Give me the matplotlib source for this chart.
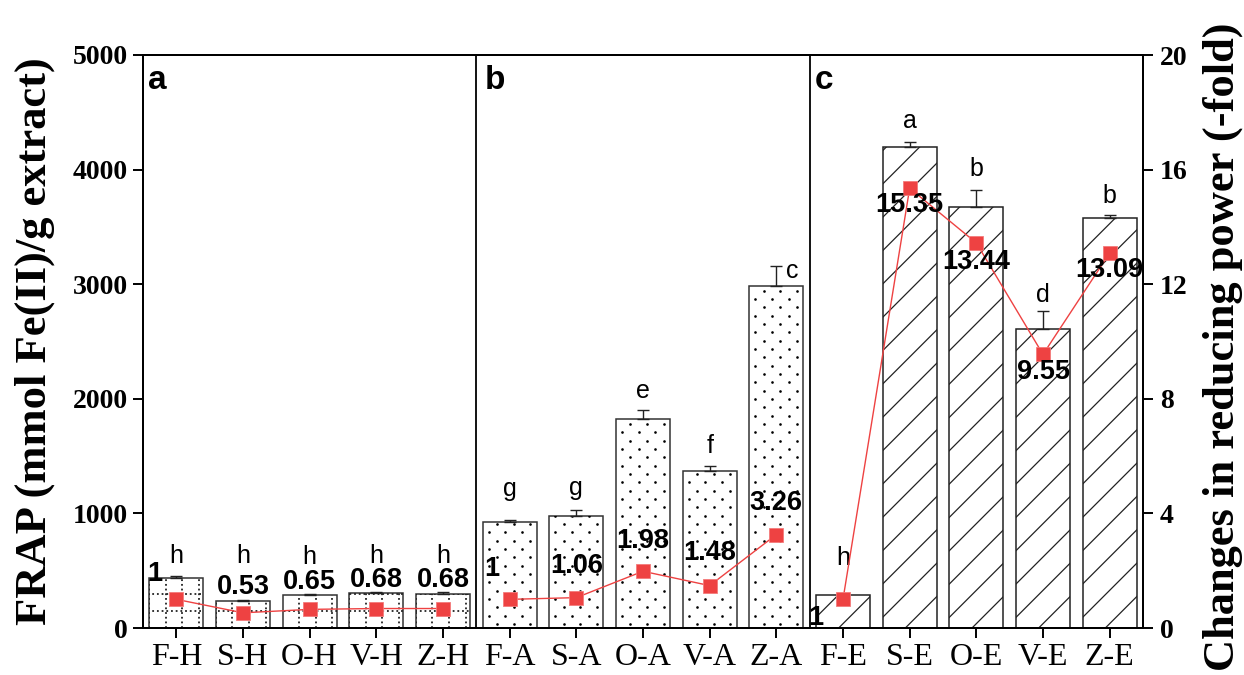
import matplotlib
matplotlib.use("Agg")
import matplotlib.pyplot as plt
import numpy as np

# ---------------- data ----------------
categories = ["F-H", "S-H", "O-H", "V-H", "Z-H",
              "F-A", "S-A", "O-A", "V-A", "Z-A",
              "F-E", "S-E", "O-E", "V-E", "Z-E"]
frap = [436, 232, 290, 302, 300,
        926, 977, 1824, 1370, 2987,
        285, 4200, 3676, 2612, 3580]
frap_err = [20, 10, 10, 10, 10,
            20, 50, 79, 44, 172,
            10, 44, 150, 155, 26]
letters = ["h", "h", "h", "h", "h",
           "g", "g", "e", "f", "c",
           "h", "a", "b", "d", "b"]
fold = [1, 0.53, 0.65, 0.68, 0.68,
        1, 1.06, 1.98, 1.48, 3.26,
        1, 15.35, 13.44, 9.55, 13.09]
fold_labels = ["1", "0.53", "0.65", "0.68", "0.68",
               "1", "1.06", "1.98", "1.48", "3.26",
               "1", "15.35", "13.44", "9.55", "13.09"]
groups = [(0, 5), (5, 10), (10, 15)]
panel_labels = ["a", "b", "c"]
left_ticks = [0, 1000, 2000, 3000, 4000, 5000]
right_ticks = [0, 4, 8, 12, 16, 20]

# ---------------- layout / style (pixel offsets) ----------------
letter_off = [(0, 13), (0, 37), (0, 30), (0, 29), (0, 29),
              (0, 24), (0, 15), (0, 12), (0, 13), (16, -12),
              (0, 29), (0, 14), (0, 14), (0, 9), (0, 12)]
fold_off = [(-22, 25), (0, 26), (0, 27), (0, 29), (0, 29),
            (-18, 30), (0, 32), (0, 30), (0, 33), (0, 32),
            (-27, -19), (0, -17), (0, -19), (0, -18), (0, -17)]
panel_x = [-0.43, 4.62, 9.58]

SERIF = "Liberation Serif"
SANS = "Liberation Sans"
RED = "#EE4242"

fig = plt.figure(figsize=(12.44, 6.75), dpi=100)
ax = fig.add_axes([143 / 1244, 47 / 675, 1000 / 1244, 573 / 675])
ax2 = ax.twinx()

x = np.arange(len(categories))
width = 0.81

plt.rcParams["hatch.linewidth"] = 0.9

bars = ax.bar(x, frap, width=width, color="white", edgecolor="#333333",
              linewidth=1.1, zorder=2)
for i, b in enumerate(bars):
    if i >= 10:
        b.set_hatch("/")
        b.set_edgecolor("#222222")

# dotted grid pattern for H bars
xs_grid = -0.16 + 0.25 * np.arange(-2, 64)
ys_grid = 150 + 148 * np.arange(0, 40)
for i in range(0, 5):
    b = bars[i]
    lc1 = ax.vlines(xs_grid, 0, 5000, colors="#222222", linewidth=1.3,
                    linestyles=(0, (1.0, 1.6)), zorder=2.5)
    lc1.set_clip_path(b)
    lc2 = ax.hlines(ys_grid, -1, 16, colors="#222222", linewidth=1.3,
                    linestyles=(0, (1.0, 1.6)), zorder=2.5)
    lc2.set_clip_path(b)

# staggered dot pattern for A bars
dot_rows = 36 + 72.7 * np.arange(0, 70)
for i in range(5, 10):
    b = bars[i]
    px, py = [], []
    for k, yy in enumerate(dot_rows):
        shift = 0.125 if k % 2 else 0.0
        for m in range(-1, 6):
            px.append(i - 0.5 + 0.06 + shift + 0.25 * m)
            py.append(yy)
    dots, = ax.plot(px, py, linestyle="none", marker="o", markersize=1.9,
                    markerfacecolor="black", markeredgewidth=0, zorder=2.5)
    dots.set_clip_path(b)

# error bars (upper only)
ax.errorbar(x, frap, yerr=[np.zeros(len(frap)), frap_err], fmt="none",
            ecolor="#222222", elinewidth=1.0, capsize=4, capthick=1.0, zorder=3)

# significance letters
for i in range(len(categories)):
    ax.annotate(letters[i], (x[i], frap[i] + frap_err[i]),
                xytext=letter_off[i], textcoords="offset pixels",
                ha="center", va="baseline", fontsize=18, family=SANS,
                color="black", zorder=5)

# separators
for sx in (4.5, 9.5):
    ax.axvline(sx, color="black", linewidth=1.3, zorder=4)

ax.set_xlim(-0.5, 14.5)
ax.set_ylim(0, 5000)
ax.set_yticks(left_ticks)
ax.set_yticklabels([str(t) for t in left_ticks], family=SERIF,
                   fontweight="bold", fontsize=20)
ax.set_xticks(x)
ax.set_xticklabels(categories, family=SERIF, fontsize=23)
ax.tick_params(axis="x", direction="out", length=7, width=1.4, pad=4)
ax.tick_params(axis="y", direction="out", length=7, width=1.4, pad=4)

for sp in ax.spines.values():
    sp.set_linewidth(1.4)
for sp in ax2.spines.values():
    sp.set_linewidth(1.4)

ax.set_ylabel("FRAP (mmol Fe(II)/g extract)", family=SERIF,
              fontweight="bold", fontsize=32)
ax.yaxis.set_label_coords(-0.088, 0.5)

# panel labels
for lab, pxl in zip(panel_labels, panel_x):
    ax.text(pxl, 0.956, lab, transform=ax.get_xaxis_transform(),
            ha="left", va="center", fontsize=24, fontweight="bold",
            family=SANS, zorder=6)

# fold changes on right axis
ax2.set_ylim(0, 20)
ax2.set_yticks(right_ticks)
ax2.set_yticklabels([str(t) for t in right_ticks], family=SERIF,
                    fontweight="bold", fontsize=20)
ax2.tick_params(axis="y", direction="out", length=7, width=1.4, pad=5)
for (s, e) in groups:
    ax2.plot(x[s:e], fold[s:e], color=RED, linewidth=1.0, marker="s",
             markersize=10, markerfacecolor=RED, markeredgecolor="#F47A7A",
             markeredgewidth=0.6, zorder=5)
for i in range(len(categories)):
    ax2.annotate(fold_labels[i], (x[i], fold[i]), xytext=fold_off[i],
                 textcoords="offset pixels", ha="center", va="center",
                 fontsize=19.5, fontweight="bold", family=SANS, color="black",
                 zorder=7)

ax2.set_ylabel("Changes in reducing power (-fold)", family=SERIF,
               fontweight="bold", fontsize=32)
ax2.yaxis.set_label_coords(1.060, 0.49)

fig.savefig("out.png", dpi=100)
